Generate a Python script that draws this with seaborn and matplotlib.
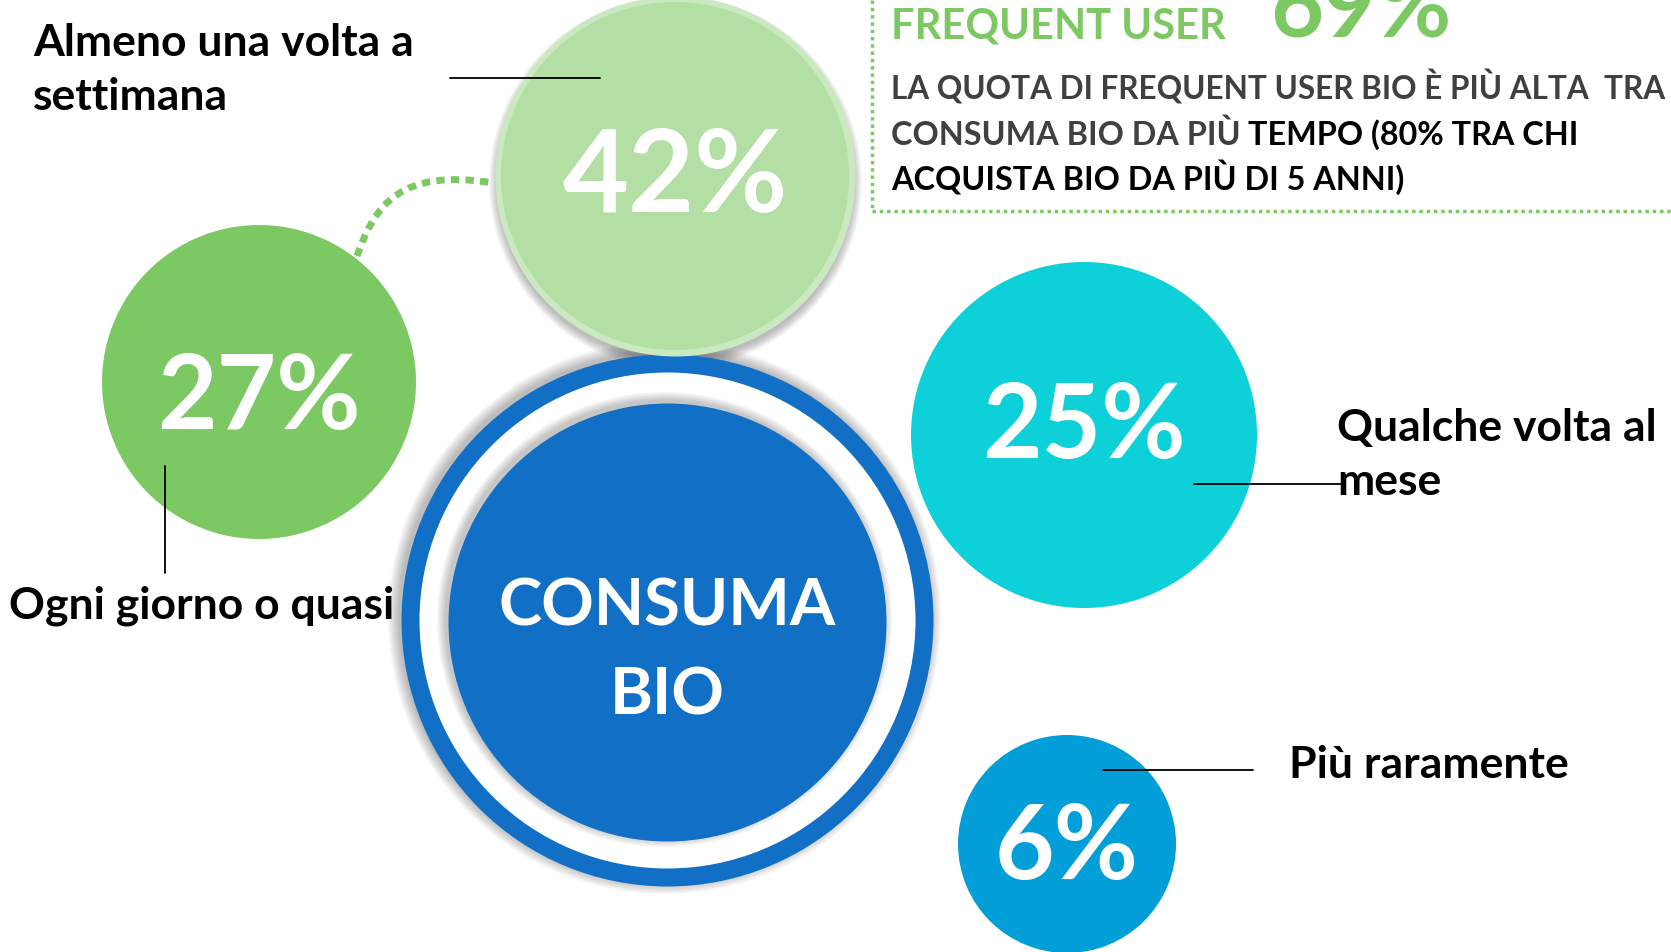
import pandas as pd
import matplotlib.pyplot as plt
import seaborn as sns
from matplotlib.path import Path
from matplotlib.patches import PathPatch

sns.set_theme(style="white")
plt.rcParams['font.family'] = ['Lato', 'DejaVu Sans']

# dati
categorie = ["Ogni giorno o quasi", "Almeno una volta a\nsettimana",
             "Qualche volta al\nmese", "Più raramente"]
quote = [27, 42, 25, 6]
colori = ["#7cc963", "#b3dfa4", "#0dd0d9", "#029ed8"]
frequent_user = 69
nota_1 = "LA QUOTA DI FREQUENT USER BIO È PIÙ ALTA  TRA"
nota_2a = "CONSUMA BIO DA PIÙ "
nota_2b = "TEMPO (80% TRA CHI"
nota_3 = "ACQUISTA BIO DA PIÙ DI 5 ANNI)"

# layout in pixel (figura 1671x952)
W, H = 1671, 952
bolla_x = [259, 675, 1084, 1067]
bolla_y = [382, 176, 435, 844]
bolla_r = [157, 174, 173, 109]
testo_dy = [17, 3, -7, 5]
testo_size = [74, 82, 74, 74]
etichetta_x = [9, 33, 1337, 1289]
etichetta_y = [606, 70, 455, 765]
# linee guida: (x0, y0, x1, y1)
guide = [(165, 466, 165, 573), (450, 78, 600, 78),
         (1194, 484, 1341, 484), (1103, 770, 1253, 770)]

centro = (667, 620)
verde = "#7cc963"
blu = "#1170c6"


def area(r):
    # diametro in punti al quadrato (dpi 100)
    return (2 * r * 72 / 100) ** 2


fig = plt.figure(figsize=(W / 100, H / 100), dpi=100)
ax = fig.add_axes([0, 0, 1, 1])
ax.set_xlim(0, W)
ax.set_ylim(H, 0)
ax.axis('off')

df = pd.DataFrame({'cat': categorie, 'quota': quote, 'x': bolla_x,
                   'y': bolla_y, 'r': bolla_r})

# ombre morbide
for i in range(8):
    a = 0.035
    sns.scatterplot(x=[centro[0] - 3], y=[centro[1] - 3], s=area(266 + i * 1.5),
                    color='black', alpha=a, linewidth=0, ax=ax, zorder=1, legend=False)
    sns.scatterplot(x=[675], y=[182], s=area(178 + i * 1.2),
                    color='black', alpha=a, linewidth=0, ax=ax, zorder=1, legend=False)

# cerchio centrale
sns.scatterplot(x=[centro[0]], y=[centro[1]], s=area(266), color=blu,
                linewidth=0, ax=ax, zorder=2, legend=False)
sns.scatterplot(x=[centro[0]], y=[centro[1]], s=area(248), color='white',
                linewidth=0, ax=ax, zorder=2.1, legend=False)
for i in range(6):
    sns.scatterplot(x=[centro[0] - 3], y=[centro[1] - 1], s=area(220 + i * 1.5),
                    color='black', alpha=0.04, linewidth=0, ax=ax, zorder=2.2, legend=False)
sns.scatterplot(x=[centro[0]], y=[centro[1] + 2], s=area(219), color=blu,
                linewidth=0, ax=ax, zorder=2.3, legend=False)
ax.text(centro[0], 607, "CONSUMA", color='white', fontsize=47, fontweight='bold',
        ha='center', va='center', zorder=5)
ax.text(centro[0], 696, "BIO", color='white', fontsize=47, fontweight='bold',
        ha='center', va='center', zorder=5)

# alone della bolla 42%
sns.scatterplot(x=[675], y=[176], s=area(180), color="#cbe9c0",
                linewidth=0, ax=ax, zorder=3, legend=False)

# bolle
sns.scatterplot(data=df, x='x', y='y', hue='cat', palette=colori,
                s=[area(r) for r in bolla_r], linewidth=0, ax=ax, zorder=3.5, legend=False)

for i, q in enumerate(quote):
    ax.text(bolla_x[i], bolla_y[i] + testo_dy[i], f'{q}%', color='white',
            fontsize=testo_size[i], fontweight='bold', ha='center', va='center', zorder=5)
    ax.text(etichetta_x[i], etichetta_y[i], categorie[i], color='black', fontsize=32,
            fontweight='bold', ha='left', va='center', linespacing=1.42, zorder=5)
    x0, y0, x1, y1 = guide[i]
    ax.plot([x0, x1], [y0, y1], color='black', lw=1.3, zorder=6)

# connettore tratteggiato tra 27% e 42%
curva = Path([(357, 256), (375, 205), (400, 168), (493, 183)],
             [Path.MOVETO, Path.CURVE4, Path.CURVE4, Path.CURVE4])
ax.add_patch(PathPatch(curva, fill=False, edgecolor=verde, lw=5,
                       linestyle=(0, (1.2, 0.9)), zorder=2))

# riquadro frequent user
ax.plot([872, 872], [0, 211], color=verde, lw=2.5, linestyle=(0, (1, 1.1)), zorder=2)
ax.plot([872, W], [211, 211], color=verde, lw=2.5, linestyle=(0, (1, 1.1)), zorder=2)
ax.text(891, 38, "FREQUENT USER", color=verde, fontsize=30, fontweight='bold',
        ha='left', va='baseline')
ax.text(1270, 37, f'{frequent_user}%', color=verde, fontsize=66, fontweight='bold',
        ha='left', va='baseline')
grigio = "#404040"
fs = 23.3
ax.text(891, 99, nota_1, color=grigio, fontsize=22.7, fontweight='bold',
        ha='left', va='baseline')
t2 = ax.text(891, 145, nota_2a, color=grigio, fontsize=fs, fontweight='bold',
             ha='left', va='baseline')
ax.annotate(nota_2b, xy=(1, 0), xycoords=t2, color='black', fontsize=fs,
            fontweight='bold', ha='left', va='bottom')
ax.text(891, 190, nota_3, color='black', fontsize=fs, fontweight='bold',
        ha='left', va='baseline')

plt.savefig('out.png', dpi=100)
